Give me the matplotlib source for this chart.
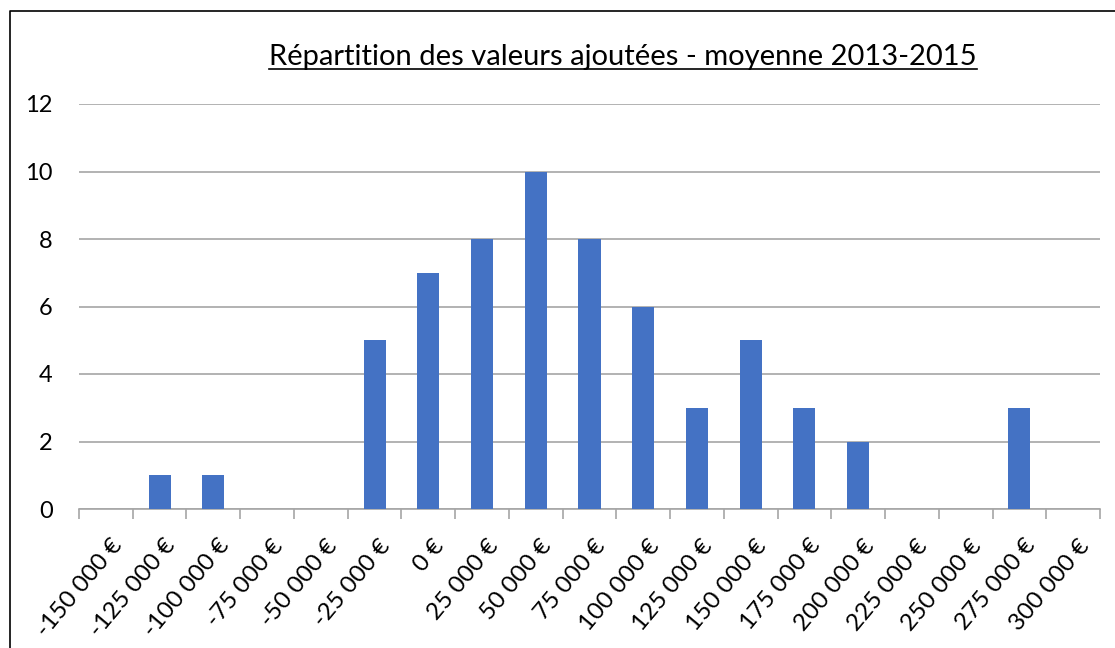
import matplotlib
matplotlib.use('Agg')
import matplotlib.pyplot as plt
import matplotlib.transforms as mtrans
from matplotlib.lines import Line2D
import numpy as np

plt.rcParams['font.family'] = ['Lato', 'DejaVu Sans']

# classes de valeur ajoutée (€) et effectifs
classes = [-150000, -125000, -100000, -75000, -50000, -25000, 0, 25000, 50000,
           75000, 100000, 125000, 150000, 175000, 200000, 225000, 250000,
           275000, 300000]
effectifs = [0, 1, 1, 0, 0, 5, 7, 8, 10, 8, 6, 3, 5, 3, 2, 0, 0, 3, 0]
labels = ['{:,} €'.format(c).replace(',', ' ') for c in classes]
titre = 'Répartition des valeurs ajoutées - moyenne 2013-2015'

fig = plt.figure(figsize=(11.15, 6.48), dpi=100)
ax = fig.add_axes([79 / 1115, 1 - 509 / 648, 1021 / 1115, 405 / 648])

x = np.arange(len(classes))
ax.bar(x, effectifs, width=0.41, color='#4472C4', zorder=3)

ax.set_xlim(-0.5, len(classes) - 0.5)
ax.set_ylim(0, 12)
ax.set_yticks(range(0, 13, 2))
ax.yaxis.grid(True, color='#A6A6A6', linewidth=1.2)
ax.set_axisbelow(True)
for s in ['top', 'right', 'left']:
    ax.spines[s].set_visible(False)
ax.spines['bottom'].set_color('#A6A6A6')
ax.spines['bottom'].set_linewidth(1.2)

# graduations entre les catégories
ax.set_xticks(np.arange(-0.5, len(classes), 1), minor=True)
ax.set_xticks(x)
ax.set_xticklabels(labels, rotation=50, ha='right', rotation_mode='anchor',
                   fontsize=17.5)
ax.tick_params(axis='x', which='major', length=0, pad=19)
ax.tick_params(axis='x', which='minor', length=7, color='#A6A6A6', width=1.2)
ax.tick_params(axis='y', length=0, labelsize=17, pad=19)

# léger décalage des étiquettes vers la droite
decal = mtrans.ScaledTranslation(4 / 100, 0, fig.dpi_scale_trans)
for lab in ax.get_xticklabels():
    lab.set_transform(lab.get_transform() + decal)

t = fig.text(623 / 1115, 1 - 65 / 648, titre, ha='center', va='baseline',
             fontsize=21)

# soulignement du titre
fig.canvas.draw()
bb = t.get_window_extent().transformed(fig.transFigure.inverted())
yl = 1 - 69 / 648
fig.add_artist(Line2D([bb.x0, bb.x1], [yl, yl],
                      color='black', linewidth=1.2, transform=fig.transFigure))

# cadre
fig.add_artist(Line2D([10 / 1115, 10 / 1115, 1], [0, 1 - 11 / 648, 1 - 11 / 648],
                      color='black', linewidth=1.2, transform=fig.transFigure))

fig.savefig('out.png', dpi=100)
